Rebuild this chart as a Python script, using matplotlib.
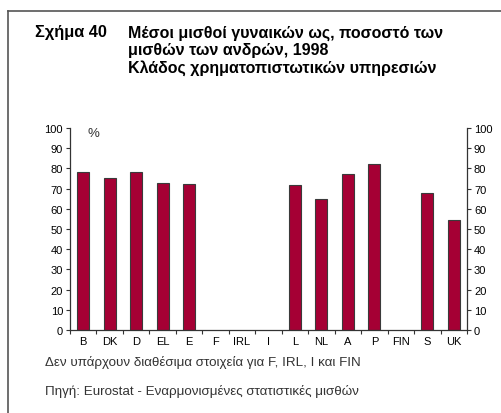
import matplotlib
matplotlib.use("Agg")
import matplotlib.pyplot as plt
from matplotlib.lines import Line2D
import numpy as np

plt.rcParams['font.family'] = ['Liberation Sans', 'DejaVu Sans']

# Women's average earnings as % of men's, financial intermediation, 1998
countries = ["B", "DK", "D", "EL", "E", "F", "IRL", "I", "L", "NL", "A", "P", "FIN", "S", "UK"]
values = [78.4, 75.4, 78.1, 72.8, 72.4, None, None, None, 71.6, 65.0, 77.2, 82.3, None, 67.8, 54.5]

title_num = "Σχήμα 40"
title_lines = ["Μέσοι μισθοί γυναικών ως, ποσοστό των",
               "μισθών των ανδρών, 1998",
               "Κλάδος χρηματοπιστωτικών υπηρεσιών"]
note = "Δεν υπάρχουν διαθέσιμα στοιχεία για F, IRL, I και FIN"
source = "Πηγή: Eurostat - Εναρμονισμένες στατιστικές μισθών"

W, H = 501, 414
fig = plt.figure(figsize=(W / 100, H / 100), dpi=100)

# outer frame (open to the right and bottom)
frame_col = '#555555'
fig.add_artist(Line2D([8 / W, 8 / W], [0, 1 - 12 / H], transform=fig.transFigure, color=frame_col, lw=1.2))
fig.add_artist(Line2D([8 / W, 1], [1 - 12 / H, 1 - 12 / H], transform=fig.transFigure, color=frame_col, lw=1.2))

# title, one line at a time
fig.text(35 / W, 1 - 33 / H, title_num, fontsize=11.8, fontweight='bold', va='center', ha='left')
for line, ypix in zip(title_lines, [33, 50.5, 68]):
    fig.text(128 / W, 1 - ypix / H, line, fontsize=11.5, fontweight='bold', va='center', ha='left')

ax = fig.add_axes([70 / W, (H - 331) / H, (467 - 70) / W, (331 - 129) / H])

x = np.arange(len(countries))
mask = np.array([v is not None for v in values])
heights = np.array([v if v is not None else 0 for v in values])
ax.bar(x[mask], heights[mask], width=0.45, color='#A50034', edgecolor='#3a3a3a', lw=0.8, zorder=2)

ax.set_xlim(-0.5, len(countries) - 0.5)
ax.set_ylim(0, 100)
ax.set_yticks(range(0, 101, 10))

# ticks between categories, labels centred
ax.set_xticks(np.arange(-0.5, len(countries), 1.0))
ax.set_xticklabels([])
ax.set_xticks(x, minor=True)
ax.set_xticklabels(countries, minor=True, fontsize=8)
ax.tick_params(axis='x', which='minor', length=0, pad=4)
ax.tick_params(axis='x', which='major', length=3, color='#333333', width=0.8)
ax.tick_params(axis='y', right=True, labelright=True, labelsize=8, length=3,
               color='#333333', width=0.8, pad=2)

for side in ['left', 'right', 'bottom']:
    ax.spines[side].set_color('#333333')
    ax.spines[side].set_linewidth(0.9)
ax.spines['top'].set_visible(False)

ax.text(0.058, 0.975, "%", transform=ax.transAxes, fontsize=9.5, va='center', ha='center', color='#333333')

fig.text(45 / W, 1 - 363 / H, note, fontsize=9.6, va='center', ha='left', color='#333333')
fig.text(45 / W, 1 - 392 / H, source, fontsize=9.6, va='center', ha='left', color='#333333')

fig.savefig("out.png", dpi=100)
